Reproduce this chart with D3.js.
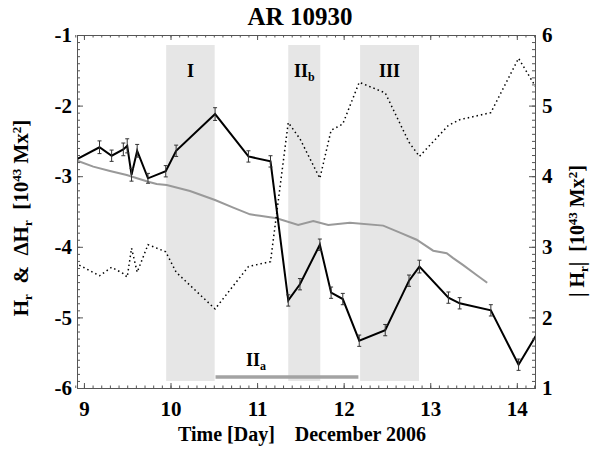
<!DOCTYPE html>
<html>
<head>
<meta charset="utf-8">
<script src="https://cdn.jsdelivr.net/npm/d3@7"></script>
<style>
  body { margin: 0; background: #fff; }
  svg, svg text { font-family: "Liberation Serif", "DejaVu Serif", serif; font-weight: bold; }
  svg { display: block; }
</style>
</head>
<body>
<svg id="chart" width="601" height="460"></svg>
<script>
// Hr measurements (day of December 2006, 10^43 Mx^2) with error bars
const hrTime  = [8.90, 9.18, 9.32, 9.455, 9.50, 9.55, 9.615, 9.74, 9.945, 10.065, 10.515, 10.90, 11.155,
                 11.36, 11.495, 11.725, 11.855, 11.99, 12.18, 12.48, 12.755, 12.875, 13.21, 13.34, 13.70, 14.02, 14.25];
const hrValue = [-2.77, -2.59, -2.71, -2.62, -2.57, -2.98, -2.64, -3.03, -2.93, -2.64, -2.12, -2.72, -2.79,
                 -4.76, -4.53, -3.97, -4.65, -4.74, -5.33, -5.18, -4.48, -4.28, -4.72, -4.80, -4.90, -5.67, -5.20];
const hrError = [0.08, 0.09, 0.08, 0.09, 0.10, 0.09, 0.09, 0.07, 0.08, 0.08, 0.09, 0.08, 0.08,
                 0.08, 0.08, 0.08, 0.08, 0.08, 0.08, 0.08, 0.08, 0.09, 0.08, 0.08, 0.08, 0.08, 0.08];

// accumulated helicity ΔHr (grey curve)
const dhTime  = [8.90, 9.108, 9.301, 9.494, 9.743, 9.84, 9.956, 10.225, 10.514, 10.725, 10.918, 11.033, 11.226,
                 11.475, 11.649, 11.822, 12.072, 12.457, 12.65, 12.843, 13.034, 13.19, 13.265, 13.381, 13.535, 13.658];
const dhValue = [-2.77, -2.865, -2.926, -2.983, -3.078, -3.11, -3.125, -3.21, -3.337, -3.446, -3.54, -3.56, -3.596,
                 -3.69, -3.635, -3.69, -3.66, -3.70, -3.80, -3.90, -4.055, -4.09, -4.16, -4.26, -4.40, -4.51];

// periods
const periodName  = ["I", "IIb", "III"];
const periodStart = [9.95, 11.36, 12.19];
const periodEnd   = [10.51, 11.73, 12.87];
const periodAStart = 10.52, periodAEnd = 12.17;

const xTicks = [9, 10, 11, 12, 13, 14];
const yLeftTicks = [-1, -2, -3, -4, -5, -6];
const yRightTicks = [1, 2, 3, 4, 5, 6];

const svg = d3.select("#chart");
const L = 77, R = 535, T = 35, B = 388;

const x = d3.scaleLinear().domain([8.92, 14.21]).range([L, R]);
const yL = d3.scaleLinear().domain([-6, -1]).range([B, T]);
const yR = d3.scaleLinear().domain([1, 6]).range([B, T]);

svg.append("defs").append("clipPath").attr("id", "plot")
  .append("rect").attr("x", L).attr("y", T).attr("width", R - L).attr("height", B - T);

const plot = svg.append("g").attr("clip-path", "url(#plot)");

// shaded periods
plot.selectAll("rect.period")
  .data(periodName)
  .join("rect")
  .attr("class", "period")
  .attr("x", (d, i) => x(periodStart[i]))
  .attr("width", (d, i) => x(periodEnd[i]) - x(periodStart[i]))
  .attr("y", T + 10)
  .attr("height", B - T - 17)
  .attr("fill", "#e6e6e6");

// period IIa bar
plot.append("line")
  .attr("x1", x(periodAStart)).attr("x2", x(periodAEnd))
  .attr("y1", B - 11).attr("y2", B - 11)
  .attr("stroke", "#a3a3a3").attr("stroke-width", 3.5);

// period labels
svg.selectAll("text.period")
  .data(periodName)
  .join("text")
  .attr("class", "period")
  .attr("x", (d, i) => (x(periodStart[i]) + x(periodEnd[i])) / 2)
  .attr("y", 77)
  .attr("text-anchor", "middle")
  .attr("font-size", 18)
  .each(function(d) {
    const t = d3.select(this);
    if (d === "IIb") {
      t.append("tspan").text("II");
      t.append("tspan").attr("font-size", 12).attr("dy", 4).text("b");
    } else t.text(d);
  });

const labA = svg.append("text")
  .attr("x", 256).attr("y", 366)
  .attr("text-anchor", "middle").attr("font-size", 18);
labA.append("tspan").text("II");
labA.append("tspan").attr("font-size", 12).attr("dy", 4).text("a");

// grey ΔHr curve
plot.append("path")
  .datum(dhTime.map((t, i) => [t, dhValue[i]]))
  .attr("fill", "none")
  .attr("stroke", "#999")
  .attr("stroke-width", 2)
  .attr("d", d3.line().x(d => x(d[0])).y(d => yL(d[1])));

// dotted |Hr| on right axis
plot.append("path")
  .datum(hrTime.map((t, i) => [t, Math.abs(hrValue[i])]))
  .attr("fill", "none")
  .attr("stroke", "#000")
  .attr("stroke-width", 1.5)
  .attr("stroke-dasharray", "1.5 3")
  .attr("d", d3.line().x(d => x(d[0])).y(d => yR(d[1])));

// black Hr curve
plot.append("path")
  .datum(hrTime.map((t, i) => [t, hrValue[i]]))
  .attr("fill", "none")
  .attr("stroke", "#000")
  .attr("stroke-width", 2)
  .attr("d", d3.line().x(d => x(d[0])).y(d => yL(d[1])));

// error bars
const eb = plot.selectAll("g.err")
  .data(hrTime)
  .join("g")
  .attr("class", "err")
  .attr("stroke", "#333")
  .attr("stroke-width", 1);
eb.append("line")
  .attr("x1", d => x(d)).attr("x2", d => x(d))
  .attr("y1", (d, i) => yL(hrValue[i] - hrError[i]))
  .attr("y2", (d, i) => yL(hrValue[i] + hrError[i]));
eb.append("line")
  .attr("x1", d => x(d) - 2).attr("x2", d => x(d) + 2)
  .attr("y1", (d, i) => yL(hrValue[i] - hrError[i]))
  .attr("y2", (d, i) => yL(hrValue[i] - hrError[i]));
eb.append("line")
  .attr("x1", d => x(d) - 2).attr("x2", d => x(d) + 2)
  .attr("y1", (d, i) => yL(hrValue[i] + hrError[i]))
  .attr("y2", (d, i) => yL(hrValue[i] + hrError[i]));

// axes: frame with inward ticks on all four sides
const axisColor = "#555";
const plain = d => String(d); // hyphen minus, as in the original
function styleAxis(g) {
  g.attr("font-family", null).attr("font-size", null);
  g.select(".domain").attr("stroke", axisColor);
  g.selectAll(".tick line").attr("stroke", axisColor);
  g.selectAll(".tick text").attr("fill", "#000")
    .style("font-size", "21px")
    .style("font-family", "'Liberation Serif', serif")
    .style("font-weight", "bold");
}
const xMinor = d3.range(89, 143).map(d => d / 10);
const yMinorL = d3.range(-60, -9).map(d => d / 10);
const yMinorR = d3.range(10, 61).map(d => d / 10);

svg.append("g").attr("transform", `translate(0,${B})`)
  .call(d3.axisBottom(x).tickValues(xMinor).tickSize(-2.5).tickFormat("").tickSizeOuter(0)).call(styleAxis);
svg.append("g").attr("transform", `translate(0,${B})`)
  .call(d3.axisBottom(x).tickValues(xTicks).tickSize(-5).tickPadding(13).tickFormat(plain).tickSizeOuter(0))
  .call(styleAxis);
svg.append("g").attr("transform", `translate(0,${T})`)
  .call(d3.axisTop(x).tickValues(xMinor).tickSize(-2.5).tickFormat("").tickSizeOuter(0)).call(styleAxis);
svg.append("g").attr("transform", `translate(0,${T})`)
  .call(d3.axisTop(x).tickValues(xTicks).tickSize(-5).tickFormat("").tickSizeOuter(0)).call(styleAxis);

svg.append("g").attr("transform", `translate(${L},0)`)
  .call(d3.axisLeft(yL).tickValues(yMinorL).tickSize(-3).tickFormat("").tickSizeOuter(0)).call(styleAxis);
svg.append("g").attr("transform", `translate(${L},0)`)
  .call(d3.axisLeft(yL).tickValues(yLeftTicks).tickSize(-6).tickPadding(5).tickFormat(plain).tickSizeOuter(0))
  .call(styleAxis);
svg.append("g").attr("transform", `translate(${R},0)`)
  .call(d3.axisRight(yR).tickValues(yMinorR).tickSize(-3).tickFormat("").tickSizeOuter(0)).call(styleAxis);
svg.append("g").attr("transform", `translate(${R},0)`)
  .call(d3.axisRight(yR).tickValues(yRightTicks).tickSize(-6).tickPadding(7).tickFormat(plain).tickSizeOuter(0))
  .call(styleAxis);

// title
svg.append("text")
  .attr("x", 300).attr("y", 25)
  .attr("text-anchor", "middle")
  .attr("font-size", 25)
  .text("AR 10930");

// x axis title
svg.append("text")
  .attr("x", 302).attr("y", 441)
  .attr("text-anchor", "middle")
  .attr("font-size", 20)
  .style("white-space", "pre")
  .text("Time [Day]    December 2006");

// left axis title
const lt = svg.append("text")
  .attr("transform", "translate(28,218) rotate(-90)")
  .attr("text-anchor", "middle")
  .attr("font-size", 21)
  .style("white-space", "pre");
lt.append("tspan").text("H");
lt.append("tspan").attr("font-size", 13).attr("baseline-shift", "-4").text("r");
lt.append("tspan").text("  &  ΔH");
lt.append("tspan").attr("font-size", 13).attr("baseline-shift", "-4").text("r");
lt.append("tspan").text("  [10");
lt.append("tspan").attr("font-size", 13).attr("baseline-shift", "7").text("43");
lt.append("tspan").text(" Mx");
lt.append("tspan").attr("font-size", 13).attr("baseline-shift", "7").text("2");
lt.append("tspan").text("]");

// right axis title
const rt = svg.append("text")
  .attr("transform", "translate(584,231) rotate(-90)")
  .attr("text-anchor", "middle")
  .attr("font-size", 20)
  .style("white-space", "pre");
rt.append("tspan").text("| H");
rt.append("tspan").attr("font-size", 13).attr("baseline-shift", "-4").text("r");
rt.append("tspan").text("|  [10");
rt.append("tspan").attr("font-size", 13).attr("baseline-shift", "7").text("43");
rt.append("tspan").text(" Mx");
rt.append("tspan").attr("font-size", 13).attr("baseline-shift", "7").text("2");
rt.append("tspan").text("]");
</script>
</body>
</html>
